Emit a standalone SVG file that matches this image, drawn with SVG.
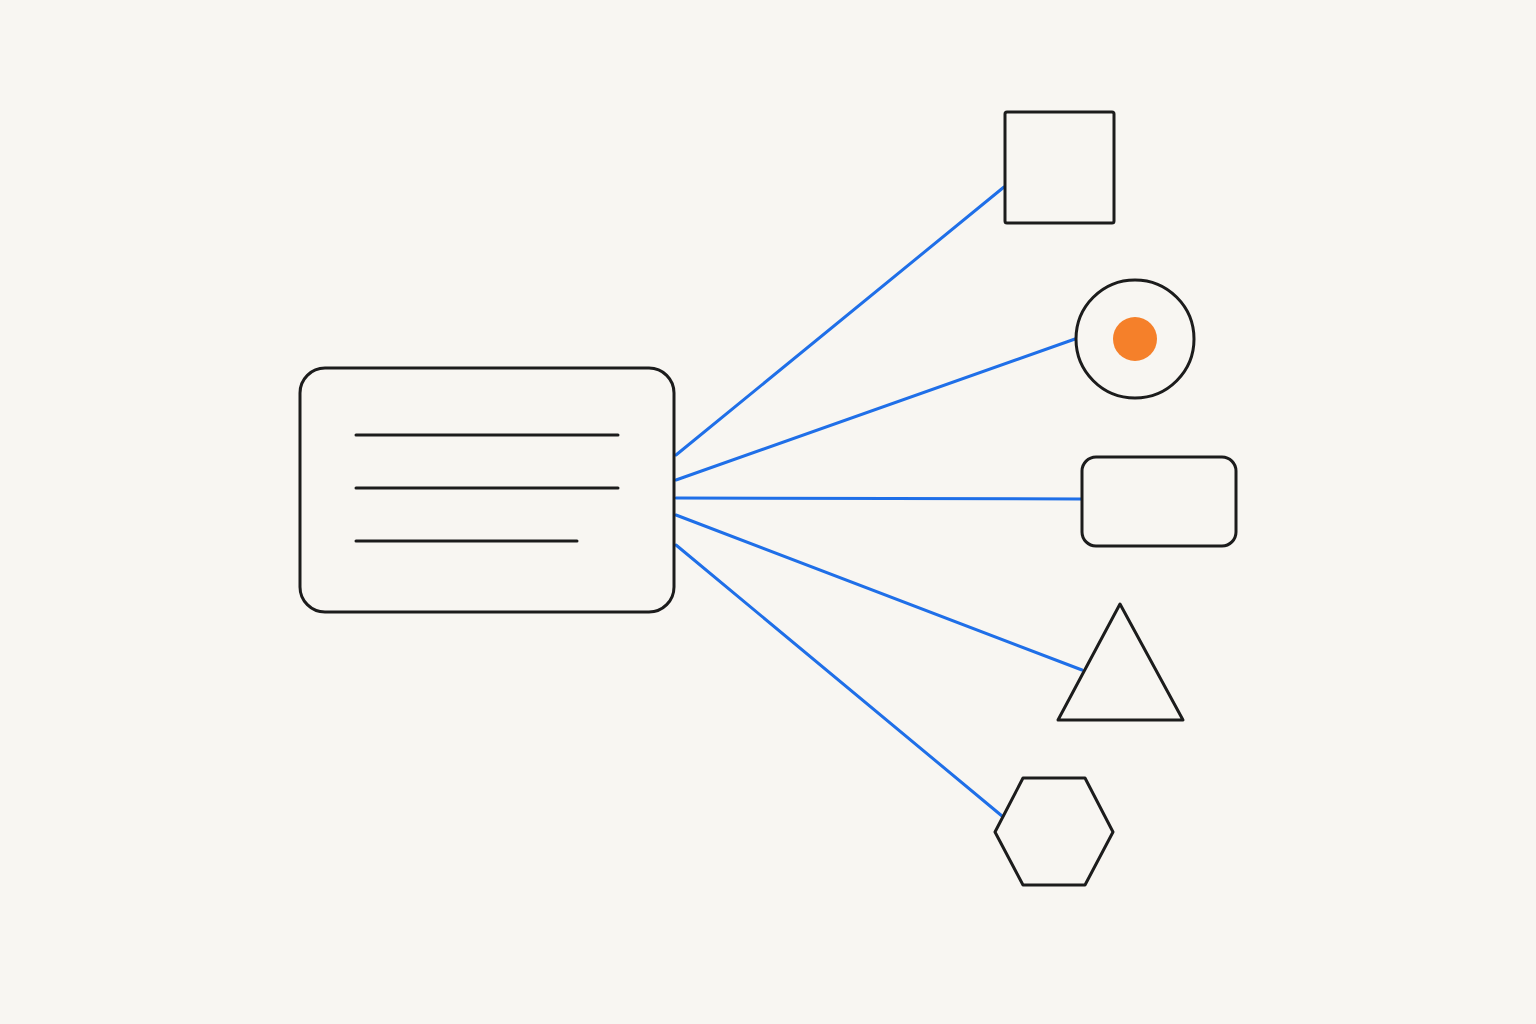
<svg xmlns="http://www.w3.org/2000/svg" width="1536" height="1024" viewBox="0 0 1536 1024">
<style>
.node{fill:none;stroke:#1c1c1c;stroke-width:3;stroke-linejoin:round}
.txt{stroke:#1c1c1c;stroke-width:3;stroke-linecap:round}
.conn{stroke:#1f6fe8;stroke-width:3;stroke-linecap:round}
</style>
<rect width="1536" height="1024" fill="#f8f6f2"/>
<g id="connectors">
<line class="conn" x1="676" y1="455" x2="1004" y2="187"/>
<line class="conn" x1="676" y1="480" x2="1075" y2="339"/>
<line class="conn" x1="676" y1="498" x2="1081" y2="499"/>
<line class="conn" x1="676" y1="515" x2="1082" y2="670"/>
<line class="conn" x1="676" y1="545" x2="1002" y2="816"/>
</g>
<g id="main">
<rect class="node" x="300" y="368" width="374" height="244" rx="25"/>
<line class="txt" x1="356" y1="435" x2="618" y2="435"/>
<line class="txt" x1="356" y1="488" x2="618" y2="488"/>
<line class="txt" x1="356" y1="541" x2="577" y2="541"/>
</g>
<g id="square">
<rect class="node" x="1005" y="112" width="109" height="111" rx="2"/>
</g>
<g id="circle">
<circle class="node" cx="1135" cy="339" r="59"/>
<circle cx="1135" cy="339" r="22" fill="#f5802a"/>
</g>
<g id="roundrect">
<rect class="node" x="1082" y="457" width="154" height="89" rx="14"/>
</g>
<g id="triangle">
<polygon class="node" points="1120,604 1183,720 1058,720"/>
</g>
<g id="hexagon">
<polygon class="node" points="1023,778 1085,778 1113,832 1085,885 1023,885 995,832"/>
</g>
</svg>
